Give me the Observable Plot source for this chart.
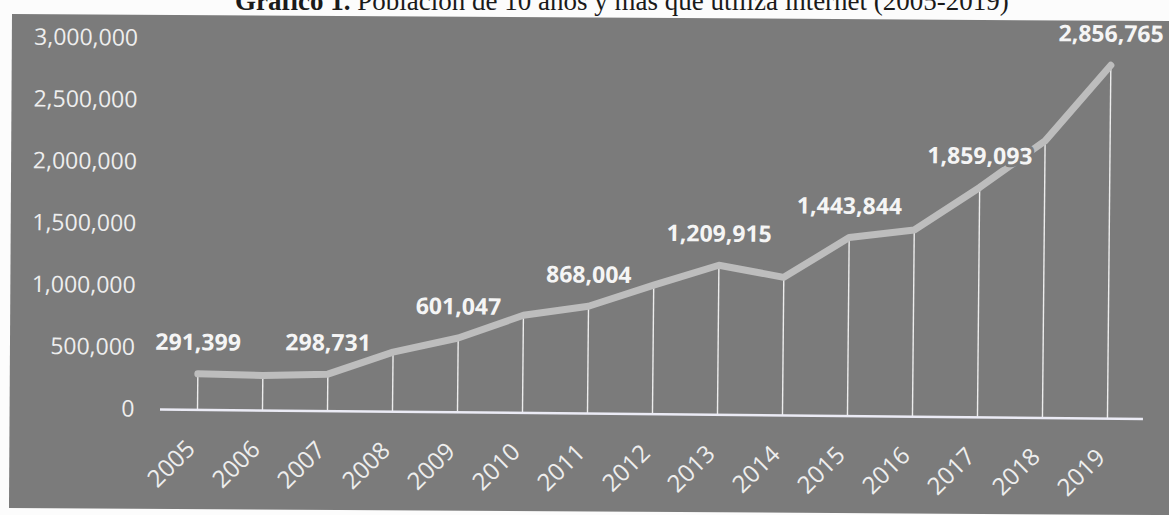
<!DOCTYPE html>
<html><head><meta charset="utf-8">
<script src="https://cdn.jsdelivr.net/npm/d3@7"></script>
<script src="https://cdn.jsdelivr.net/npm/@observablehq/plot@0.6"></script>
<style>
html,body{margin:0;padding:0;background:#fcfcfc;}
body{width:1169px;height:515px;overflow:hidden;position:relative;}
#title{position:absolute;left:235px;top:-12px;font-family:"Liberation Serif",serif;font-size:27px;line-height:27px;color:#1a1a1a;white-space:nowrap;}
#panel{position:absolute;left:12px;top:14px;width:1180px;height:494px;background:#7b7b7b;transform:rotate(0.35deg);transform-origin:0 0;}
#chart{position:absolute;left:0;top:0;}
#chart svg{transform:rotate(0.55deg);transform-origin:160px 409px;}
</style></head>
<body>
<div id="title"><b>Gráfico 1.</b> Población de 10 años y más que utiliza internet (2005-2019)</div>
<div id="panel"></div>
<div id="chart"></div>
<script>
const years = [2005, 2006, 2007, 2008, 2009, 2010, 2011, 2012, 2013, 2014, 2015, 2016, 2017, 2018, 2019];
const users = [291399, 283000, 298731, 482000, 601047, 790000, 868004, 1044000, 1209915, 1117000, 1443844, 1510000, 1859093, 2241000, 2856765];
const labeledYears = [2005, 2007, 2009, 2011, 2013, 2015, 2017, 2019];
const yTicks = [0, 500000, 1000000, 1500000, 2000000, 2500000, 3000000];

const data = years.map((year, i) => ({year, users: users[i]}));
const labeled = data.filter(d => labeledYears.includes(d.year));
const fmt = d3.format(",");

const chart = Plot.plot({
  width: 1169, height: 515,
  marginLeft: 160, marginRight: 26, marginTop: 38, marginBottom: 106,
  style: {background: "transparent", fontFamily: "'Open Sans', sans-serif", overflow: "visible", color: "#eeeeee"},
  x: {type: "point", domain: years, padding: 0.5, axis: null},
  y: {domain: [0, 3000000]},
  marks: [
    Plot.ruleX(data, {x: "year", y1: 0, y2: "users", stroke: "#ececec", strokeWidth: 1.4}),
    Plot.ruleY([0], {stroke: "#ebebf5", strokeWidth: 2.5}),
    Plot.line(data, {x: "year", y: "users", stroke: "#bdbdbd", strokeWidth: 7, strokeLinejoin: "round"}),
    Plot.axisY({ticks: yTicks, tickSize: 0, tickPadding: 26, tickFormat: fmt, fontSize: 23, color: "#eeeeee", label: null}),
    Plot.text(years, {x: d => d, frameAnchor: "bottom", dx: -6, dy: 35, rotate: -45, textAnchor: "end", lineAnchor: "middle", text: d => String(d), fontSize: 24, fill: "#eeeeee"}),
    Plot.text(labeled, {x: "year", y: "users", text: d => fmt(d.users), dy: -31, fontSize: 23, fontWeight: "bold", fill: "#f5f5f5", stroke: "#7b7b7b", strokeWidth: 6})
  ]
});
document.getElementById("chart").appendChild(chart);
</script>
</body></html>
